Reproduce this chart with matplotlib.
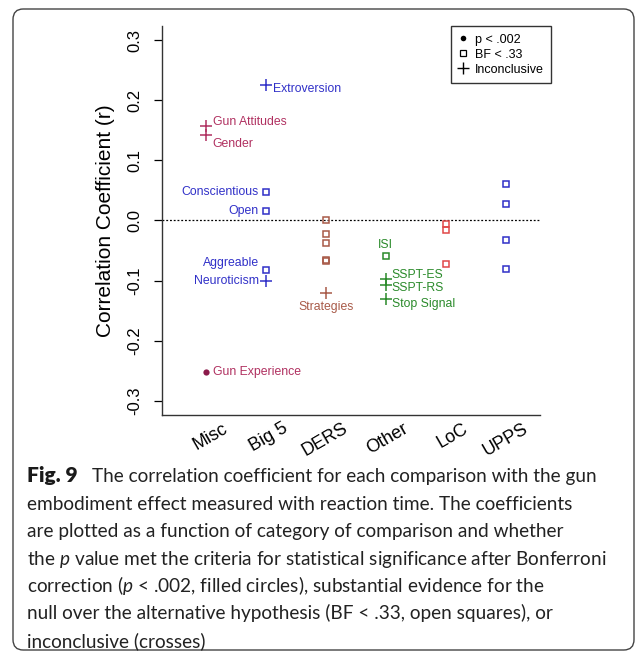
import matplotlib
matplotlib.use("Agg")
import matplotlib.pyplot as plt
import matplotlib.transforms as mtransforms
from matplotlib.patches import FancyBboxPatch
from matplotlib.lines import Line2D

plt.rcParams['font.family'] = ['Liberation Sans', 'DejaVu Sans']
plt.rcParams['mathtext.fontset'] = 'custom'
plt.rcParams['mathtext.rm'] = 'Lato'
plt.rcParams['mathtext.it'] = 'Lato:italic'
plt.rcParams['mathtext.bf'] = 'Lato:bold'

categories = ["Misc", "Big 5", "DERS", "Other", "LoC", "UPPS"]
cat_colors = ["#B03060", "#3030C8", "#A85A48", "#2A8A2A", "#E04848", "#3030C8"]

# (category index, r, marker kind, label)
misc_pts = [(0, 0.157, "cross", "Gun Attitudes"),
            (0, 0.142, "cross", "Gender"),
            (0, -0.252, "dot", "Gun Experience")]
big5_pts = [(1, 0.225, "cross", "Extroversion"),
            (1, 0.047, "square", "Conscientious"),
            (1, 0.016, "square", "Open"),
            (1, -0.083, "square", "Aggreable"),
            (1, -0.100, "cross", "Neuroticism")]
ders_pts = [(2, 0.000, "square", ""),
            (2, -0.022, "square", ""),
            (2, -0.037, "square", ""),
            (2, -0.065, "square", ""),
            (2, -0.067, "square", ""),
            (2, -0.121, "cross", "Strategies")]
other_pts = [(3, -0.059, "square", "ISI"),
             (3, -0.098, "cross", "SSPT-ES"),
             (3, -0.108, "cross", "SSPT-RS"),
             (3, -0.131, "cross", "Stop Signal")]
loc_pts = [(4, -0.005, "square", ""),
           (4, -0.015, "square", ""),
           (4, -0.072, "square", "")]
upps_pts = [(5, 0.060, "square", ""),
            (5, 0.028, "square", ""),
            (5, -0.033, "square", ""),
            (5, -0.080, "square", "")]

yticks = [0.3, 0.2, 0.1, 0.0, -0.1, -0.2, -0.3]

# label placement: pixel offset from the point, alignment
label_place = {
    "Gun Attitudes": (7, 4, "left"),
    "Gender": (7, -9, "left"),
    "Gun Experience": (7, 0, "left"),
    "Extroversion": (7, -4, "left"),
    "Conscientious": (-7, 0, "right"),
    "Open": (-7, 0, "right"),
    "Aggreable": (-7, 7, "right"),
    "Neuroticism": (-7, 0, "right"),
    "Strategies": (0, -14, "center"),
    "ISI": (0, 11, "center"),
    "SSPT-ES": (6, 4, "left"),
    "SSPT-RS": (6, -3, "left"),
    "Stop Signal": (6, -5, "left"),
}

marker_style = {
    "dot": dict(marker="o", ms=4.5, mew=0),
    "square": dict(marker="s", ms=5.0, mfc="none", mew=1.1),
    "cross": dict(marker="+", ms=9, mew=1.1),
}

fig = plt.figure(figsize=(6.37, 6.55), dpi=100)

# rounded frame around the whole figure
frame = FancyBboxPatch((13 / 637, 5 / 655), 621 / 637, 641 / 655,
                       boxstyle="round,pad=0,rounding_size=0.016",
                       transform=fig.transFigure, fill=False,
                       ec="#444444", lw=1.0)
fig.patches.append(frame)

ax = fig.add_axes([162 / 637, 1 - 415 / 655, 378 / 637, 389 / 655])
ax.set_xlim(0.27, 6.57)
ax.set_ylim(-0.3233, 0.3233)

ax.axhline(0, color="black", ls=(0, (1.5, 1.5)), lw=0.9, zorder=1)

all_pts = misc_pts + big5_pts + ders_pts + other_pts + loc_pts + upps_pts
for ci, r, kind, label in all_pts:
    x = ci + 1
    col = cat_colors[ci]
    st = dict(marker_style[kind])
    if kind == "dot":
        st["mfc"] = "#8B1A4A"
        col = "#8B1A4A"
    ax.plot([x], [r], ls="none", color=col, mec=col, zorder=3, **st)
    if label:
        dx, dy, ha = label_place[label]
        ax.annotate(label, (x, r), xytext=(dx, dy), textcoords="offset pixels",
                    ha=ha, va="center", color=cat_colors[ci], fontsize=8.8)

ax.spines['top'].set_visible(False)
ax.spines['right'].set_visible(False)
for s in ("left", "bottom"):
    ax.spines[s].set_color("#333333")
    ax.spines[s].set_linewidth(1.0)

ax.set_yticks(yticks)
ax.set_yticklabels([f"{v:.1f}" for v in yticks], rotation=90, va="center",
                   fontsize=12)
ax.tick_params(axis="y", length=6, width=0.9, pad=8)
ax.set_xticks(range(1, len(categories) + 1))
ax.set_xticklabels(categories, rotation=30, ha="right", va="center",
                   rotation_mode="anchor", fontsize=13)
ax.tick_params(axis="x", length=0, pad=9)
shift = mtransforms.ScaledTranslation(0.21, 0, fig.dpi_scale_trans)
for lab in ax.get_xticklabels():
    lab.set_transform(lab.get_transform() + shift)
ax.set_ylabel("Correlation Coefficient (r)", fontsize=15, labelpad=9)

handles = [
    Line2D([], [], ls="none", color="black", marker="o", ms=4, mew=0),
    Line2D([], [], ls="none", color="black", marker="s", ms=4.5, mfc="none", mew=0.9),
    Line2D([], [], ls="none", color="black", marker="+", ms=9, mew=1.0),
]
leg = ax.legend(handles, ["p < .002", "BF < .33", "Inconclusive"],
                loc="upper right", bbox_to_anchor=(551 / 637, 1 - 26 / 655),
                bbox_transform=fig.transFigure, fontsize=9, frameon=True,
                fancybox=False, edgecolor="black", handlelength=0.8,
                handletextpad=0.5, borderpad=0.6, labelspacing=0.25,
                borderaxespad=0)
leg.get_frame().set_linewidth(1.0)

# caption below the plot
caption = [
    "The correlation coefficient for each comparison with the gun",
    "embodiment effect measured with reaction time. The coefficients",
    "are plotted as a function of category of comparison and whether",
    r"the $p$ value met the criteria for statistical significance after Bonferroni",
    r"correction ($p$ < .002, filled circles), substantial evidence for the",
    "null over the alternative hypothesis (BF < .33, open squares), or",
    "inconclusive (crosses)",
]
x0 = 27 / 637
y0 = 1 - 482 / 655
fig.text(x0, y0, "Fig. 9", fontsize=15, family="Lato", weight="heavy",
         color="#1a1a1a", va="baseline", ha="left")
for i, line in enumerate(caption):
    x = 92 / 637 if i == 0 else x0
    fig.text(x, y0 - i * 27.5 / 655, line, fontsize=13.7,
             family="Lato", color="#222222", va="baseline", ha="left")

fig.savefig("out.png", dpi=100)
